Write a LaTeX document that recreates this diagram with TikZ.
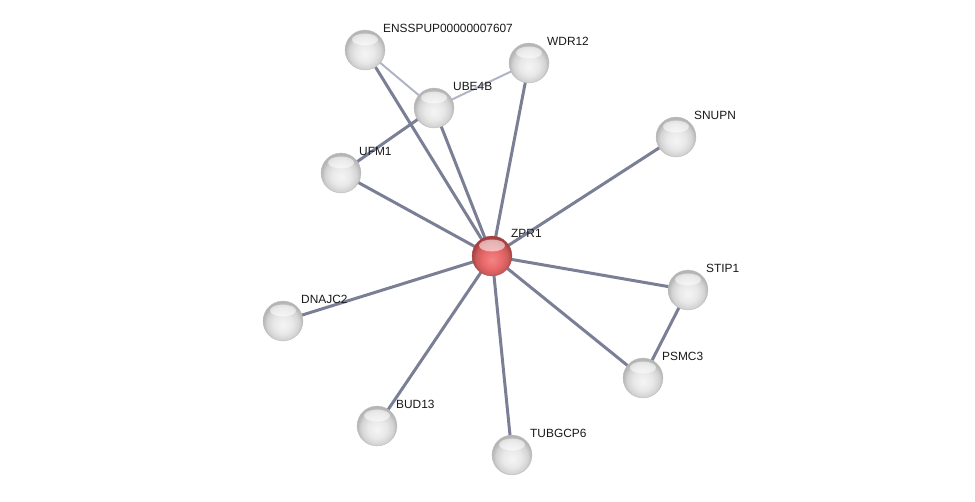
\documentclass[tikz,border=0pt]{standalone}
\usepackage{fontspec}
\setmainfont{Liberation Sans}
\usetikzlibrary{backgrounds}
\pgfdeclareradialshading{gball}{\pgfpoint{0bp}{-5bp}}{color(0bp)=(gray!8); color(12bp)=(gray!18); color(20bp)=(gray!34); color(25bp)=(gray!58); color(50bp)=(gray!60)}
\pgfdeclareradialshading{rball}{\pgfpoint{0bp}{-5bp}}{color(0bp)=(red!45!white!95!black); color(12bp)=(red!55!white!92!black); color(20bp)=(red!55!white!80!black); color(25bp)=(red!55!black!75!white); color(50bp)=(red!50!black)}
\begin{document}
\begin{tikzpicture}[x=1pt,y=-1pt,
  ball/.style={circle,minimum size=40pt,inner sep=0pt,shading=gball,draw=gray!50,line width=0.3pt,
    path picture={\fill[white,opacity=0.55] ([yshift=10.5pt]path picture bounding box.center) ellipse (13pt and 6pt);}},
  redball/.style={ball,shading=rball,draw=red!30!gray},
  lbl/.style={anchor=west,inner sep=0pt,font=\fontsize{11.9}{13}\selectfont,text=black!90},
  edge/.style={line width=3pt,color={rgb,255:red,122;green,127;blue,150}},
  ledge/.style={line width=2pt,color={rgb,255:red,176;green,180;blue,196}}]
\useasboundingbox (0,0) rectangle (975,501);
\node[ball] (ens) at (365,50) {};
\node[ball] (wdr) at (529,63) {};
\node[ball] (ube) at (434,108) {};
\node[ball] (snu) at (676,137) {};
\node[ball] (ufm) at (341,173) {};
\node[redball] (zpr) at (492,256) {};
\node[ball] (sti) at (688,290) {};
\node[ball] (dna) at (283,321) {};
\node[ball] (psm) at (643,378) {};
\node[ball] (bud) at (377,426) {};
\node[ball] (tub) at (512,455) {};
\node[lbl] (lens) at ([shift={(18,-22)}]ens.center) {ENSSPUP00000007607};
\node[lbl] (lwdr) at ([shift={(18,-22)}]wdr.center) {WDR12};
\node[lbl] (lube) at ([shift={(19,-22)}]ube.center) {UBE4B};
\node[lbl] (lsnu) at ([shift={(18,-22)}]snu.center) {SNUPN};
\node[lbl] (lufm) at ([shift={(18,-22)}]ufm.center) {UFM1};
\node[lbl] (lzpr) at ([shift={(19,-23)}]zpr.center) {ZPR1};
\node[lbl] (lsti) at ([shift={(18,-22)}]sti.center) {STIP1};
\node[lbl] (ldna) at ([shift={(18,-22)}]dna.center) {DNAJC2};
\node[lbl] (lpsm) at ([shift={(19,-22)}]psm.center) {PSMC3};
\node[lbl] (lbud) at ([shift={(19,-22)}]bud.center) {BUD13};
\node[lbl] (ltub) at ([shift={(18,-22)}]tub.center) {TUBGCP6};
\begin{scope}[on background layer]
\draw[ledge] (ens.center) -- (ube.center);
\draw[ledge] (ube.center) -- (wdr.center);
\draw[edge] (ube.center) -- (ufm.center);
\draw[edge] (sti.center) -- (psm.center);
\foreach \n in {ens,wdr,ube,snu,ufm,sti,dna,psm,bud,tub}
  \draw[edge] (zpr.center) -- (\n.center);
\end{scope}
\end{tikzpicture}
\end{document}
